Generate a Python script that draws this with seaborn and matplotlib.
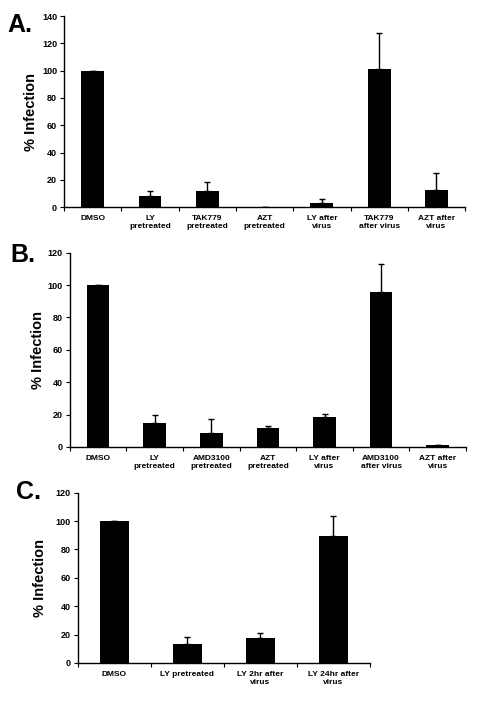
import numpy as np
import matplotlib
matplotlib.use("Agg")
import matplotlib.pyplot as plt
import seaborn as sns
from matplotlib.ticker import FixedLocator

sns.set_style("white")
plt.rcParams['font.family'] = ['Liberation Sans', 'DejaVu Sans']
plt.rcParams['font.weight'] = 'bold'
plt.rcParams['text.color'] = 'black'
plt.rcParams['axes.labelcolor'] = 'black'
plt.rcParams['xtick.color'] = 'black'
plt.rcParams['ytick.color'] = 'black'

# Panel A
cats_a = ["DMSO", "LY\npretreated", "TAK779\npretreated", "AZT\npretreated",
          "LY after\nvirus", "TAK779\nafter virus", "AZT after\nvirus"]
vals_a = [100, 8, 11.5, 0, 3, 101.5, 12.5]
err_a = [0, 3.5, 6.5, 0, 3, 26, 12.5]
yticks_a = [0, 20, 40, 60, 80, 100, 120, 140]

# Panel B
cats_b = ["DMSO", "LY\npretreated", "AMD3100\npretreated", "AZT\npretreated",
          "LY after\nvirus", "AMD3100\nafter virus", "AZT after\nvirus"]
vals_b = [100, 15, 8.5, 11.5, 18.5, 95.5, 1]
err_b = [0, 5, 8.5, 1.5, 2, 17.5, 0.5]
yticks_b = [0, 20, 40, 60, 80, 100, 120]

# Panel C
cats_c = ["DMSO", "LY pretreated", "LY 2hr after\nvirus", "LY 24hr after\nvirus"]
vals_c = [100, 13.5, 17.5, 89.5]
err_c = [0, 4.5, 3.5, 14]
yticks_c = [0, 20, 40, 60, 80, 100, 120]

fig = plt.figure(figsize=(4.78, 7.03), dpi=100)

panels = [
    ("A.", cats_a, vals_a, err_a, yticks_a, [0.134, 0.7055, 0.839, 0.2715], (7, 13), -0.065),
    ("B.", cats_b, vals_b, err_b, yticks_b, [0.146, 0.3642, 0.829, 0.2763], (10, 243), -0.063),
    ("C.", cats_c, vals_c, err_c, yticks_c, [0.163, 0.0569, 0.611, 0.2422], (16, 480), -0.106),
]

W, H = 478, 703
for label, cats, vals, errs, yticks, rect, lpos, ylx in panels:
    ax = fig.add_axes(rect)
    sns.barplot(x=cats, y=vals, color="black", width=0.4, ax=ax,
                saturation=1, edgecolor="black", linewidth=0)
    x = np.arange(len(cats))
    ax.errorbar(x, vals, yerr=[np.zeros(len(errs)), errs], fmt="none",
                ecolor="black", elinewidth=1, capsize=2, capthick=1)
    ax.set_xlim(-0.5, len(cats) - 0.5)
    ax.set_ylim(0, yticks[-1])
    ax.set_yticks(yticks)
    ax.set_yticklabels([str(t) for t in yticks], fontsize=6.5, fontweight='bold')
    ax.set_xticks(x)
    ax.set_xticklabels(cats, fontsize=6, fontweight='bold', linespacing=1.15)
    ax.tick_params(axis='x', which='major', length=0, pad=6)
    ax.xaxis.set_minor_locator(FixedLocator(np.arange(-0.5, len(cats), 1.0)))
    ax.tick_params(axis='x', which='minor', length=3, width=0.8, direction='out', bottom=True)
    ax.tick_params(axis='y', length=3, width=0.8, direction='out', left=True, pad=2)
    for s in ['top', 'right']:
        ax.spines[s].set_visible(False)
    for s in ['left', 'bottom']:
        ax.spines[s].set_linewidth(1)
        ax.spines[s].set_color('black')
    ax.set_ylabel("% Infection", fontsize=10.5, fontweight='bold')
    ax.yaxis.set_label_coords(ylx, 0.5)
    fig.text(lpos[0] / W, 1 - lpos[1] / H, label, fontsize=18, fontweight='bold',
             va='top', ha='left')

fig.savefig("out.png", dpi=100)
